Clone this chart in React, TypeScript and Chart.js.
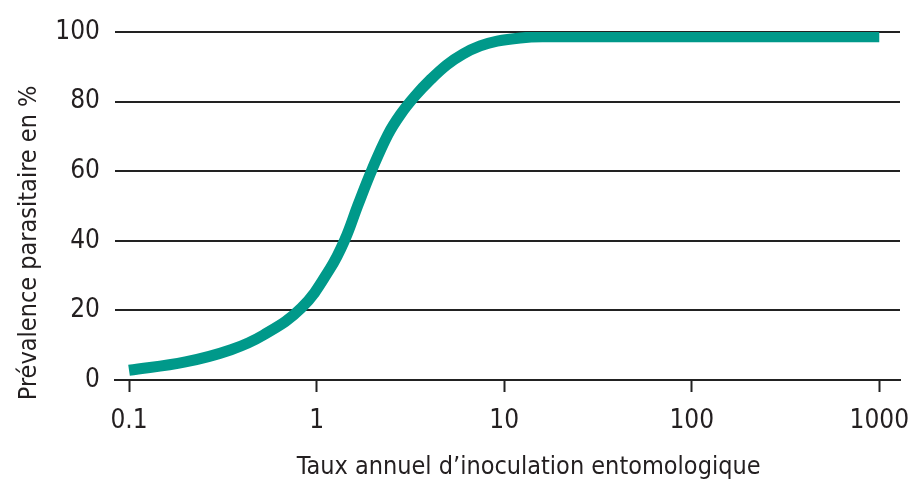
import React, { useEffect, useRef } from "react";
import { Chart, registerables } from "chart.js";

Chart.register(...registerables);

const eirValues = [0.1, 0.2, 0.35, 0.52, 0.83, 1.18, 1.42, 1.66, 1.98, 2.4, 2.8, 3.35, 4.03, 4.96, 6.04, 7.45, 9.18, 12.2, 16, 100, 1000];
const prevalenceValues = [2.8, 5.2, 8.7, 12.9, 20.7, 32, 40.5, 50.2, 60.6, 70.5, 76.3, 81.6, 86.2, 90.6, 93.7, 96, 97.4, 98.3, 98.6, 98.6, 98.6];
const xTickValues = [0.1, 1, 10, 100, 1000];
const yTickValues = [0, 20, 40, 60, 80, 100];
const xTitle = "Taux annuel d\u2019inoculation entomologique";
const yTitle = "Prévalence parasitaire en %";

const FONT = "'Liberation Sans Narrow', 'DejaVu Sans Condensed', sans-serif";
const TEXT = "#231f20";

export default function App() {
  const ref = useRef<HTMLCanvasElement | null>(null);

  useEffect(() => {
    if (!ref.current) return;
    const titlePlugin = {
      id: "customTitles",
      afterDraw(chart: any) {
        const { ctx, chartArea } = chart;
        ctx.save();
        ctx.fillStyle = TEXT;
        ctx.font = `25px ${FONT}`;
        ctx.textAlign = "center";
        ctx.textBaseline = "middle";
        ctx.fillText(xTitle, chartArea.left + chartArea.width * 0.527, 467);
        ctx.translate(29, chartArea.top + (chartArea.bottom - chartArea.top) * 0.606);
        ctx.rotate(-Math.PI / 2);
        ctx.fillText(yTitle, 0, 0);
        ctx.restore();
      },
    };

    const chart = new Chart(ref.current, {
      type: "line",
      data: {
        datasets: [
          {
            data: eirValues.map((x, i) => ({ x, y: prevalenceValues[i] })),
            borderColor: "#00998a",
            borderWidth: 11,
            pointRadius: 0,
            tension: 0.4,
            fill: false,
          },
        ],
      },
      options: {
        responsive: false,
        animation: false,
        layout: { padding: { top: 32, right: 10, left: 0, bottom: 0 } },
        plugins: { legend: { display: false }, tooltip: { enabled: false } },
        scales: {
          x: {
            type: "logarithmic",
            min: 0.0842,
            max: 1290,
            afterBuildTicks(scale: any) {
              scale.ticks = xTickValues.map((v) => ({ value: v }));
            },
            afterFit(scale: any) {
              scale.height = 110;
              scale.paddingLeft = 0;
              scale.paddingRight = 0;
            },
            grid: {
              drawOnChartArea: false,
              drawTicks: true,
              tickLength: 12,
              tickWidth: 2,
              tickColor: "#222",
            },
            border: { display: true, color: "#222", width: 2 },
            ticks: {
              autoSkip: false,
              maxRotation: 0,
              padding: 14,
              color: TEXT,
              font: { family: FONT, size: 26 },
              callback: (v: any) => String(v),
            },
          },
          y: {
            min: 0,
            max: 100,
            afterBuildTicks(scale: any) {
              scale.ticks = yTickValues.map((v) => ({ value: v }));
            },
            afterFit(scale: any) {
              scale.width = 115;
            },
            grid: { color: "#222", lineWidth: 2, drawTicks: false },
            border: { display: false },
            ticks: {
              padding: 15,
              color: TEXT,
              font: { family: FONT, size: 26 },
            },
          },
        },
      },
      plugins: [titlePlugin],
    });
    return () => chart.destroy();
  }, []);

  return (
    <div style={{ position: "fixed", left: 0, top: 0, width: 910, height: 490, background: "#fff" }}>
      <canvas ref={ref} width={910} height={490} style={{ width: 910, height: 490 }} />
    </div>
  );
}
